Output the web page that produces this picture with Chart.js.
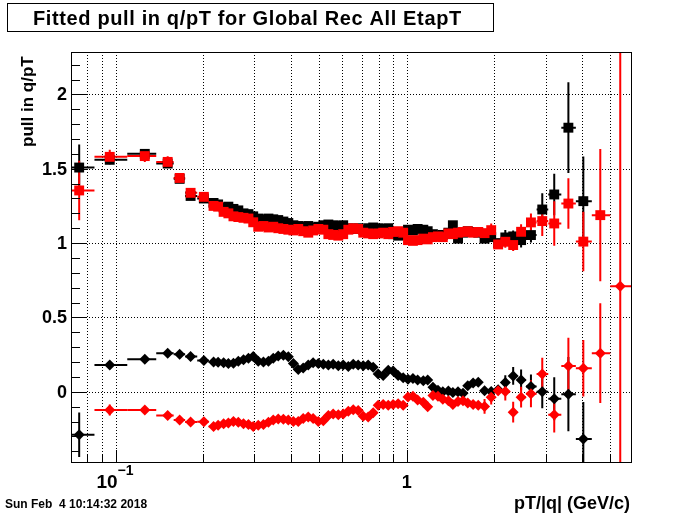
<!DOCTYPE html>
<html>
<head>
<meta charset="utf-8">
<script src="https://cdn.jsdelivr.net/npm/chart.js@4.4.1/dist/chart.umd.min.js"></script>
<style>
  html, body { margin: 0; padding: 0; background: #fff; }
  canvas { display: block; }
</style>
</head>
<body>
<canvas id="chart" width="700" height="514"></canvas>
<script>
// bin centres in pT/|q| (GeV/c)
const pT = [
  0.075, 0.0955, 0.126, 0.151, 0.166, 0.181, 0.201,
  0.217, 0.225, 0.235, 0.244, 0.254, 0.264, 0.275, 0.286, 0.297, 0.309,
  0.322, 0.335, 0.348, 0.362, 0.377, 0.392, 0.408, 0.424, 0.441, 0.459,
  0.477, 0.497, 0.517, 0.538, 0.559, 0.582, 0.605, 0.630, 0.655, 0.681,
  0.709, 0.737, 0.767, 0.798, 0.830, 0.864, 0.898, 0.934, 0.972, 1.01,
  1.05, 1.09, 1.14, 1.18, 1.23, 1.28, 1.33, 1.39, 1.44, 1.50,
  1.56, 1.62, 1.69, 1.76,
  1.85, 1.95, 2.06, 2.18, 2.32, 2.47, 2.67, 2.92, 3.21, 3.59, 4.04, 4.62, 5.41
];

// fitted sigma of the pull (squares)
const blackSigma = [
  1.508, 1.56, 1.60, 1.535, 1.432, 1.317, 1.30,
  1.27, 1.26, 1.24, 1.245, 1.23, 1.22, 1.20, 1.195, 1.18, 1.165,
  1.16, 1.165, 1.16, 1.155, 1.145, 1.135, 1.12, 1.115, 1.11, 1.115,
  1.105, 1.11, 1.12, 1.125, 1.12, 1.115, 1.12, 1.10, 1.095, 1.10,
  1.09, 1.10, 1.105, 1.10, 1.095, 1.10, 1.06, 1.05, 1.055, 1.09,
  1.085, 1.095, 1.09, 1.08, 1.06, 1.05, 1.055, 1.07, 1.12, 1.03,
  1.07, 1.08, 1.075, 1.07,
  1.03, 1.04, 1.0, 1.038, 1.045, 1.02, 1.054, 1.226, 1.327, 1.776, 1.282, null, null
];
const blackSigmaErr = [
  0.155, 0.03, 0.012, 0.015, 0.012, 0.012, 0.012,
  0.012, 0.012, 0.012, 0.012, 0.012, 0.012, 0.012, 0.012, 0.012, 0.012,
  0.012, 0.012, 0.012, 0.012, 0.012, 0.012, 0.012, 0.012, 0.012, 0.012,
  0.012, 0.012, 0.012, 0.012, 0.012, 0.012, 0.012, 0.012, 0.012, 0.012,
  0.012, 0.012, 0.012, 0.012, 0.012, 0.012, 0.015, 0.015, 0.015, 0.015,
  0.015, 0.015, 0.015, 0.015, 0.015, 0.015, 0.015, 0.015, 0.02, 0.02,
  0.02, 0.02, 0.02, 0.02,
  0.02, 0.02, 0.03, 0.05, 0.04, 0.05, 0.05, 0.11, 0.14, 0.305, 0.30, null, null
];
const redSigma = [
  1.354, 1.58, 1.585, 1.546, 1.438, 1.338, 1.311,
  1.25, 1.245, 1.21, 1.20, 1.18, 1.175, 1.17, 1.165, 1.14, 1.11,
  1.115, 1.105, 1.11, 1.10, 1.095, 1.09, 1.085, 1.095, 1.08, 1.07,
  1.085, 1.095, 1.09, 1.06, 1.055, 1.05, 1.06, 1.09, 1.10, 1.095,
  1.07, 1.065, 1.06, 1.065, 1.07, 1.06, 1.075, 1.08, 1.07, 1.02,
  1.015, 1.02, 1.03, 1.025, 1.04, 1.045, 1.04, 1.065, 1.06, 1.07,
  1.075, 1.08, 1.07, 1.075,
  1.067, 1.087, 0.991, 1.009, 0.987, 1.076, 1.139, 1.148, 1.132, 1.266, 1.01, 1.188, null
];
const redSigmaErr = [
  0.20, 0.047, 0.04, 0.038, 0.015, 0.015, 0.015,
  0.012, 0.012, 0.012, 0.012, 0.012, 0.012, 0.012, 0.012, 0.012, 0.012,
  0.012, 0.012, 0.012, 0.012, 0.012, 0.012, 0.012, 0.012, 0.012, 0.012,
  0.012, 0.012, 0.012, 0.012, 0.012, 0.012, 0.012, 0.012, 0.012, 0.012,
  0.012, 0.012, 0.012, 0.012, 0.012, 0.012, 0.015, 0.015, 0.015, 0.015,
  0.015, 0.015, 0.015, 0.015, 0.015, 0.015, 0.015, 0.015, 0.02, 0.02,
  0.02, 0.02, 0.02, 0.02,
  0.02, 0.045, 0.03, 0.04, 0.04, 0.05, 0.06, 0.10, 0.15, 0.17, 0.20, 0.445, null
];

// fitted mean of the pull (diamonds)
const blackMean = [
  -0.289, 0.181, 0.219, 0.26, 0.253, 0.237, 0.21,
  0.20, 0.199, 0.195, 0.19, 0.192, 0.205, 0.215, 0.225, 0.237, 0.205,
  0.20, 0.205, 0.225, 0.24, 0.245, 0.235, 0.19, 0.15, 0.16, 0.18,
  0.195, 0.19, 0.185, 0.18, 0.185, 0.175, 0.18, 0.17, 0.185, 0.18,
  0.175, 0.18, 0.165, 0.12, 0.11, 0.145, 0.14, 0.11, 0.095, 0.085,
  0.09, 0.08, 0.075, 0.08, 0.03, 0.01, 0.0, 0.005, -0.005, 0.0,
  -0.01, 0.04, 0.06, 0.065,
  0.007, 0.002, 0.013, 0.062, 0.107, 0.08, 0.036, 0.0, -0.047, -0.016, -0.318, null, null
];
const blackMeanErr = [
  0.15, 0.027, 0.01, 0.01, 0.01, 0.01, 0.01,
  0.01, 0.01, 0.01, 0.01, 0.01, 0.01, 0.01, 0.01, 0.01, 0.01,
  0.01, 0.01, 0.01, 0.01, 0.01, 0.01, 0.01, 0.01, 0.01, 0.01,
  0.01, 0.01, 0.01, 0.01, 0.01, 0.01, 0.01, 0.01, 0.01, 0.01,
  0.01, 0.01, 0.01, 0.01, 0.01, 0.01, 0.012, 0.012, 0.012, 0.012,
  0.012, 0.012, 0.012, 0.012, 0.012, 0.012, 0.012, 0.012, 0.015, 0.015,
  0.015, 0.015, 0.015, 0.015,
  0.02, 0.02, 0.02, 0.05, 0.06, 0.07, 0.08, 0.11, 0.145, 0.25, 0.25, null, null
];
const redMean = [
  null, -0.123, -0.123, -0.159, -0.19, -0.203, -0.201,
  -0.233, -0.225, -0.215, -0.21, -0.2, -0.205, -0.215, -0.22, -0.233, -0.225,
  -0.22, -0.205, -0.19, -0.183, -0.185, -0.19, -0.2, -0.2, -0.18, -0.17,
  -0.18, -0.2, -0.195, -0.16, -0.15, -0.155, -0.15, -0.13, -0.12, -0.125,
  -0.165, -0.17, -0.14, -0.09, -0.085, -0.09, -0.085, -0.08, -0.09, -0.035,
  -0.03, -0.055, -0.07, -0.10, -0.025, -0.03, -0.05, -0.06, -0.085, -0.065,
  -0.06, -0.075, -0.085, -0.09,
  -0.098, -0.036, 0.007, 0.002, -0.137, -0.036, -0.013, 0.119, -0.154, 0.174, 0.159, 0.26, 0.709
];
const redMeanErr = [
  null, 0.037, 0.015, 0.012, 0.012, 0.012, 0.012,
  0.01, 0.01, 0.01, 0.01, 0.01, 0.01, 0.01, 0.01, 0.01, 0.01,
  0.01, 0.01, 0.01, 0.01, 0.01, 0.01, 0.01, 0.01, 0.01, 0.01,
  0.01, 0.01, 0.01, 0.01, 0.01, 0.01, 0.01, 0.01, 0.01, 0.01,
  0.01, 0.01, 0.01, 0.01, 0.01, 0.01, 0.012, 0.012, 0.012, 0.012,
  0.012, 0.012, 0.012, 0.012, 0.012, 0.012, 0.012, 0.012, 0.015, 0.015,
  0.015, 0.015, 0.015, 0.015,
  0.05, 0.05, 0.03, 0.06, 0.07, 0.07, 0.09, 0.11, 0.12, 0.19, 0.19, 0.335, 3.0
];

// axes
const xMin = 0.0703, xMax = 5.89;
const yMin = -0.472, yMax = 2.285;
const xGridTicks = [0.08, 0.09, 0.1, 0.2, 0.3, 0.4, 0.5, 0.6, 0.7, 0.8, 0.9, 1, 2, 3, 4, 5];
const xMajorTicks = [0.1, 1];
const yMajorTicks = [0, 0.5, 1, 1.5, 2];
const yMinorTicks = [-0.4, -0.3, -0.2, -0.1, 0.1, 0.2, 0.3, 0.4, 0.6, 0.7, 0.8, 0.9,
  1.1, 1.2, 1.3, 1.4, 1.6, 1.7, 1.8, 1.9, 2.1, 2.2];
const yTickLabels = ["0", "0.5", "1", "1.5", "2"];

const titleText = "Fitted pull in q/pT for Global Rec All EtapT";
const yTitle = "pull in q/pT";
const xTitle = "pT/|q| (GeV/c)";
const dateText = "Sun Feb  4 10:14:32 2018";

const FONT = "'Liberation Sans', Arial, Helvetica, sans-serif";

function makePoints(vals, errs) {
  const n = pT.length;
  const pts = [];
  for (let i = 0; i < n; i++) {
    if (vals[i] === null) continue;
    const lo = i === 0 ? xMin : Math.sqrt(pT[i - 1] * pT[i]);
    const hi = i === n - 1 ? xMax : Math.sqrt(pT[i] * pT[i + 1]);
    pts.push({ x: pT[i], y: vals[i], ey: errs[i] || 0, xlo: lo, xhi: hi });
  }
  return pts;
}

// dotted grid, drawn under everything
const gridLines = {
  id: "gridLines",
  beforeDatasetsDraw(chart) {
    const { ctx, chartArea: a, scales: { x, y } } = chart;
    ctx.save();
    ctx.strokeStyle = "#000";
    ctx.lineWidth = 1;
    ctx.setLineDash([1, 2]);
    xGridTicks.forEach(v => {
      const px = Math.round(x.getPixelForValue(v)) + 0.5;
      ctx.beginPath();
      ctx.moveTo(px, a.top);
      ctx.lineTo(px, a.bottom);
      ctx.stroke();
    });
    yMajorTicks.forEach(v => {
      const py = Math.round(y.getPixelForValue(v)) + 0.5;
      ctx.beginPath();
      ctx.moveTo(a.left, py);
      ctx.lineTo(a.right, py);
      ctx.stroke();
    });
    ctx.restore();
  }
};

// x bin width and y error bars
const errorBars = {
  id: "errorBars",
  beforeDatasetsDraw(chart) {
    const { ctx, chartArea: a, scales: { x, y } } = chart;
    ctx.save();
    ctx.beginPath();
    ctx.rect(a.left, a.top, a.right - a.left, a.bottom - a.top);
    ctx.clip();
    ctx.lineWidth = 2;
    const sets = chart.data.datasets;
    for (let d = sets.length - 1; d >= 0; d--) {
      ctx.strokeStyle = sets[d].borderColor;
      sets[d].data.forEach(p => {
        const px = x.getPixelForValue(p.x);
        const py = y.getPixelForValue(p.y);
        ctx.beginPath();
        ctx.moveTo(x.getPixelForValue(p.xlo), py);
        ctx.lineTo(x.getPixelForValue(p.xhi), py);
        ctx.moveTo(px, y.getPixelForValue(p.y - p.ey));
        ctx.lineTo(px, y.getPixelForValue(p.y + p.ey));
        ctx.stroke();
      });
    }
    ctx.restore();
  }
};

// frame, ticks and all text in ROOT style
const decorations = {
  id: "decorations",
  afterDraw(chart) {
    const { ctx, chartArea: a, scales: { x, y } } = chart;
    ctx.save();
    ctx.strokeStyle = "#000";
    ctx.fillStyle = "#000";
    ctx.lineWidth = 1;

    // frame
    ctx.strokeRect(Math.round(a.left) + 0.5, Math.round(a.top) + 0.5,
      Math.round(a.right - a.left), Math.round(a.bottom - a.top));

    // x ticks
    xGridTicks.forEach(v => {
      const px = Math.round(x.getPixelForValue(v)) + 0.5;
      const len = xMajorTicks.includes(v) ? 12 : 7;
      ctx.beginPath();
      ctx.moveTo(px, a.bottom);
      ctx.lineTo(px, a.bottom - len);
      ctx.stroke();
    });
    // y ticks
    yMajorTicks.concat(yMinorTicks).forEach(v => {
      const py = Math.round(y.getPixelForValue(v)) + 0.5;
      const len = yMajorTicks.includes(v) ? 16 : 9;
      ctx.beginPath();
      ctx.moveTo(a.left, py);
      ctx.lineTo(a.left + len, py);
      ctx.stroke();
    });

    // y tick labels
    ctx.font = "bold 18px " + FONT;
    ctx.textAlign = "right";
    ctx.textBaseline = "middle";
    yMajorTicks.forEach((v, i) => {
      ctx.fillText(yTickLabels[i], a.left - 4, y.getPixelForValue(v) + 1);
    });

    // x tick labels: 10^-1 and 1
    const p01 = x.getPixelForValue(0.1);
    ctx.textBaseline = "alphabetic";
    ctx.font = "bold 19px " + FONT;
    ctx.textAlign = "right";
    ctx.fillText("10", p01 + 2, 488);
    ctx.font = "bold 14px " + FONT;
    ctx.textAlign = "left";
    ctx.fillText("\u22121", p01 + 2, 475);
    ctx.font = "bold 18px " + FONT;
    ctx.textAlign = "center";
    ctx.fillText("1", x.getPixelForValue(1), 488);

    // x axis title
    ctx.textAlign = "right";
    ctx.fillText(xTitle, a.right - 1, 509);

    // y axis title
    ctx.save();
    ctx.font = "bold 17px " + FONT;
    ctx.translate(33, 147);
    ctx.rotate(-Math.PI / 2);
    ctx.textAlign = "left";
    ctx.fillText(yTitle, 0, 0);
    ctx.restore();

    // date stamp
    ctx.font = "bold 12px " + FONT;
    ctx.textAlign = "left";
    ctx.fillText(dateText, 5, 508);

    // title box
    ctx.fillStyle = "#fff";
    ctx.fillRect(7.5, 3.5, 486, 28);
    ctx.strokeRect(7.5, 3.5, 486, 28);
    ctx.fillStyle = "#000";
    ctx.font = "bold 20px " + FONT;
    const w = ctx.measureText(titleText).width;
    const spacing = Math.max(0, (428 - w) / (titleText.length - 1));
    ctx.letterSpacing = spacing.toFixed(2) + "px";
    ctx.textAlign = "left";
    ctx.fillText(titleText, 33, 25);
    ctx.letterSpacing = "0px";

    ctx.restore();
  }
};

const chart = new Chart(document.getElementById("chart"), {
  type: "scatter",
  data: {
    datasets: [
      {
        label: "sigma red",
        data: makePoints(redSigma, redSigmaErr),
        pointStyle: "rect",
        pointRadius: 7,
        backgroundColor: "#ff0000",
        borderColor: "#ff0000",
        borderWidth: 0
      },
      {
        label: "sigma black",
        data: makePoints(blackSigma, blackSigmaErr),
        pointStyle: "rect",
        pointRadius: 7,
        backgroundColor: "#000000",
        borderColor: "#000000",
        borderWidth: 0
      },
      {
        label: "mean red",
        data: makePoints(redMean, redMeanErr),
        pointStyle: "rectRot",
        pointRadius: 5.5,
        backgroundColor: "#ff0000",
        borderColor: "#ff0000",
        borderWidth: 0
      },
      {
        label: "mean black",
        data: makePoints(blackMean, blackMeanErr),
        pointStyle: "rectRot",
        pointRadius: 5.5,
        backgroundColor: "#000000",
        borderColor: "#000000",
        borderWidth: 0
      }
    ]
  },
  options: {
    responsive: false,
    animation: false,
    devicePixelRatio: 1,
    events: [],
    layout: { padding: { left: 71, right: 69, top: 52, bottom: 52 } },
    scales: {
      x: { type: "logarithmic", min: xMin, max: xMax, display: false },
      y: { type: "linear", min: yMin, max: yMax, display: false }
    },
    plugins: {
      legend: { display: false },
      tooltip: { enabled: false }
    }
  },
  plugins: [gridLines, errorBars, decorations]
});
</script>
</body>
</html>
